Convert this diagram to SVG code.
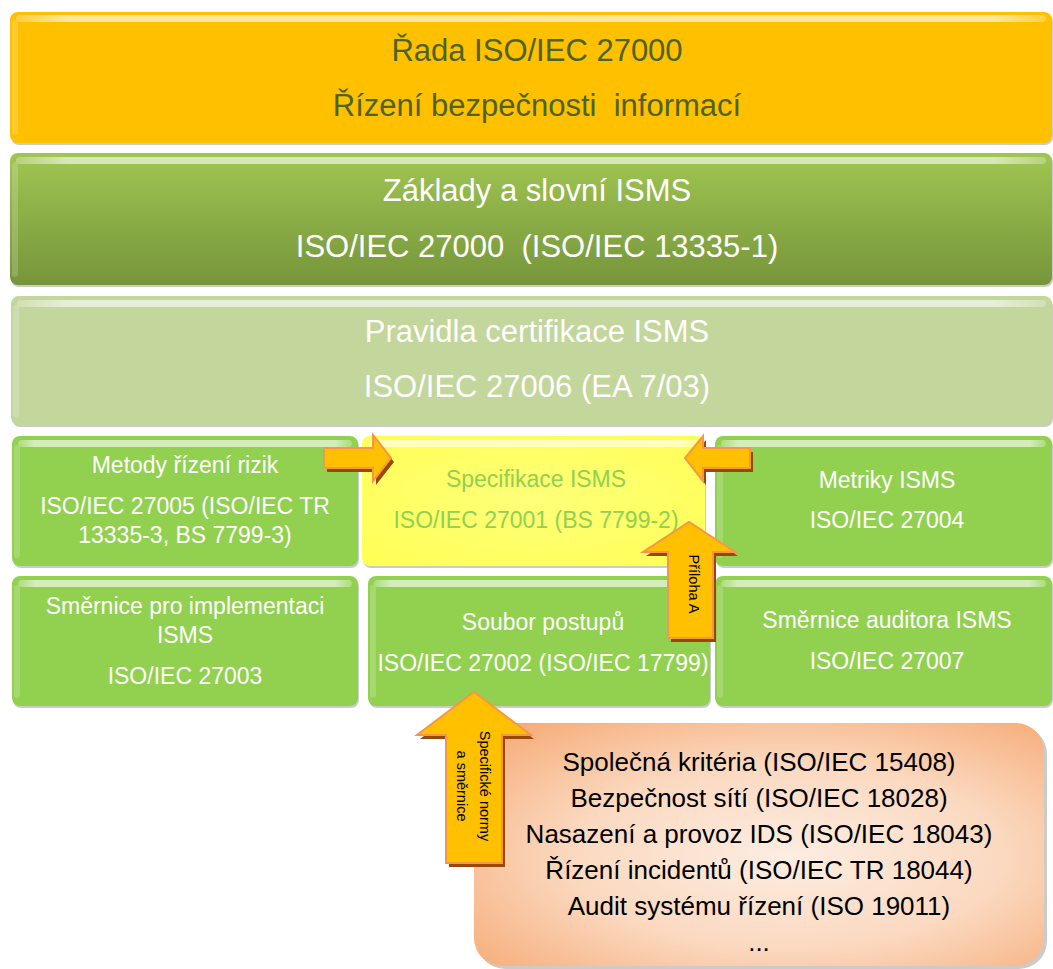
<svg xmlns="http://www.w3.org/2000/svg" width="1053" height="969" viewBox="0 0 1053 969">
<defs>
<style>
.t{font-family:"Liberation Sans",Arial,sans-serif;text-anchor:middle}
.w{fill:#ffffff}
.b1{fill:#4F6228;font-size:31px}
.big{font-size:31px}
.mid{font-size:23px}
.spec{fill:#92D050;font-size:23px}
.bot{fill:#000000;font-size:26px}
.lab{fill:#000000;font-size:14.5px}
.sh{fill:#8C8C8C;opacity:0.45}
.top{fill:url(#hl)}
.side{fill:#ffffff;opacity:0.18}
.arr{fill:#FFC000;stroke:#F79646;stroke-width:2;stroke-linejoin:miter}
.arrsh{fill:#984807}
</style>
<linearGradient id="hl" x1="0" y1="0" x2="1" y2="0">
<stop offset="0" stop-color="#ffffff" stop-opacity="0.25"/>
<stop offset="0.05" stop-color="#ffffff" stop-opacity="0.6"/>
<stop offset="0.95" stop-color="#ffffff" stop-opacity="0.6"/>
<stop offset="1" stop-color="#ffffff" stop-opacity="0.25"/>
</linearGradient>
<linearGradient id="g2" x1="0" y1="0" x2="0" y2="1">
<stop offset="0" stop-color="#A0C652"/>
<stop offset="1" stop-color="#76953A"/>
</linearGradient>
<radialGradient id="peach" cx="0.55" cy="0.55" r="0.75">
<stop offset="0" stop-color="#FDEDE2"/>
<stop offset="0.5" stop-color="#FBD9C0"/>
<stop offset="1" stop-color="#F5A872"/>
</radialGradient>
<radialGradient id="yel" cx="0.5" cy="0.5" r="0.7">
<stop offset="0" stop-color="#FFFF7A"/>
<stop offset="1" stop-color="#FFFF55"/>
</radialGradient>
</defs>

<g id="band1">
<rect class="sh" x="11" y="14" width="1042" height="131" rx="8"/>
<rect x="10" y="12" width="1042" height="131" rx="8" fill="#FFC000"/>
<rect class="top" x="16" y="15" width="1030" height="7" rx="3.5"/>
<rect class="side" x="12" y="20" width="6" height="115" rx="3"/>
<text class="t b1" x="537" y="61">Řada ISO/IEC 27000</text>
<text class="t b1" x="537" y="116" xml:space="preserve">Řízení bezpečnosti  informací</text>
</g>

<g id="band2">
<rect class="sh" x="11" y="155" width="1042" height="132" rx="8"/>
<rect x="10" y="153" width="1042" height="132" rx="8" fill="url(#g2)"/>
<rect class="top" x="16" y="157" width="1030" height="7" rx="3.5"/>
<rect class="side" x="12" y="162" width="6" height="115" rx="3"/>
<text class="t w big" x="537" y="201">Základy a slovní ISMS</text>
<text class="t w big" x="537" y="257" xml:space="preserve">ISO/IEC 27000  (ISO/IEC 13335-1)</text>
</g>

<g id="band3">
<rect class="sh" x="12" y="298" width="1041" height="129" rx="8"/>
<rect x="11" y="296" width="1041" height="129" rx="8" fill="#C3D69B"/>
<rect class="top" x="17" y="300" width="1029" height="7" rx="3.5"/>
<rect class="side" x="13" y="305" width="6" height="112" rx="3"/>
<text class="t w big" x="537" y="342">Pravidla certifikace ISMS</text>
<text class="t w big" x="537" y="397">ISO/IEC 27006 (EA 7/03)</text>
</g>

<g id="metody">
<rect class="sh" x="13" y="438" width="346" height="130" rx="8"/>
<rect x="12" y="436" width="346" height="130" rx="8" fill="#92D050"/>
<rect class="top" x="18" y="440" width="334" height="7" rx="3.5"/>
<rect class="side" x="14" y="445" width="6" height="113" rx="3"/>
<text class="t w mid" x="185" y="473">Metody řízení rizik</text>
<text class="t w mid" x="185" y="514">ISO/IEC 27005 (ISO/IEC TR</text>
<text class="t w mid" x="185" y="543">13335-3, BS 7799-3)</text>
</g>

<g id="specifikace">
<rect class="sh" x="363" y="438" width="343" height="130" rx="8"/>
<rect x="362" y="436" width="343" height="130" rx="8" fill="url(#yel)"/>
<rect class="top" x="368" y="440" width="331" height="7" rx="3.5"/>
<text class="t spec" x="536" y="487">Specifikace ISMS</text>
<text class="t spec" x="536" y="528">ISO/IEC 27001 (BS 7799-2)</text>
</g>

<g id="metriky">
<rect class="sh" x="716" y="438" width="337" height="130" rx="8"/>
<rect x="715" y="436" width="337" height="130" rx="8" fill="#92D050"/>
<rect class="top" x="721" y="440" width="325" height="7" rx="3.5"/>
<rect class="side" x="717" y="445" width="6" height="113" rx="3"/>
<text class="t w mid" x="887" y="488">Metriky ISMS</text>
<text class="t w mid" x="887" y="528">ISO/IEC 27004</text>
</g>

<g id="smernice-impl">
<rect class="sh" x="13" y="578" width="346" height="130" rx="8"/>
<rect x="12" y="576" width="346" height="130" rx="8" fill="#92D050"/>
<rect class="top" x="18" y="580" width="334" height="7" rx="3.5"/>
<rect class="side" x="14" y="585" width="6" height="113" rx="3"/>
<text class="t w mid" x="185" y="614">Směrnice pro implementaci</text>
<text class="t w mid" x="185" y="643">ISMS</text>
<text class="t w mid" x="185" y="684">ISO/IEC 27003</text>
</g>

<g id="soubor">
<rect class="sh" x="369" y="578" width="342" height="130" rx="8"/>
<rect x="368" y="576" width="342" height="130" rx="8" fill="#92D050"/>
<rect class="top" x="374" y="580" width="330" height="7" rx="3.5"/>
<rect class="side" x="370" y="585" width="6" height="113" rx="3"/>
<text class="t w mid" x="543" y="630">Soubor postupů</text>
<text class="t w mid" x="543" y="671">ISO/IEC 27002 (ISO/IEC 17799)</text>
</g>

<g id="smernice-auditora">
<rect class="sh" x="716" y="578" width="337" height="130" rx="8"/>
<rect x="715" y="576" width="337" height="130" rx="8" fill="#92D050"/>
<rect class="top" x="721" y="580" width="325" height="7" rx="3.5"/>
<rect class="side" x="717" y="585" width="6" height="113" rx="3"/>
<text class="t w mid" x="887" y="628">Směrnice auditora ISMS</text>
<text class="t w mid" x="887" y="669">ISO/IEC 27007</text>
</g>

<g id="specificke">
<rect x="477" y="726" width="570" height="243" rx="28" fill="#8C8C8C" opacity="0.45"/>
<rect x="474" y="723" width="570" height="243" rx="28" fill="url(#peach)"/>
<text class="t bot" x="759" y="771">Společná kritéria (ISO/IEC 15408)</text>
<text class="t bot" x="759" y="807">Bezpečnost sítí (ISO/IEC 18028)</text>
<text class="t bot" x="759" y="843">Nasazení a provoz IDS (ISO/IEC 18043)</text>
<text class="t bot" x="759" y="879">Řízení incidentů (ISO/IEC TR 18044)</text>
<text class="t bot" x="759" y="915">Audit systému řízení (ISO 19011)</text>
<text class="t bot" x="759" y="951">...</text>
</g>

<g id="connectors">
<g id="arrow-metody">
<path class="arrsh" transform="translate(3,4)" d="M324,448 H373 V435 L391,458 L373,481 V468 H324 Z"/>
<path class="arr" d="M324,448 H373 V435 L391,458 L373,481 V468 H324 Z"/>
</g>
<g id="arrow-metriky">
<path class="arrsh" transform="translate(3,4)" d="M750,448 H703 V436 L685,458 L703,481 V468 H750 Z"/>
<path class="arr" d="M750,448 H703 V436 L685,458 L703,481 V468 H750 Z"/>
</g>
<g id="arrow-priloha">
<path class="arrsh" transform="translate(3,4)" d="M668,638 V552 H643 L689,522 L735,552 H713 V638 Z"/>
<path class="arr" d="M668,638 V552 H643 L689,522 L735,552 H713 V638 Z"/>
<text class="t lab" transform="translate(694,584) rotate(90)" x="0" y="5">Příloha A</text>
</g>
<g id="arrow-normy">
<path class="arrsh" transform="translate(3,4)" d="M446,863 V735 H417 L474,692 L531,735 H502 V863 Z"/>
<path class="arr" d="M446,863 V735 H417 L474,692 L531,735 H502 V863 Z"/>
<g transform="translate(474,786) rotate(90)">
<text class="t lab" x="0" y="-6">Specifické normy</text>
<text class="t lab" x="0" y="17">a směrnice</text>
</g>
</g>
</g>
</svg>
